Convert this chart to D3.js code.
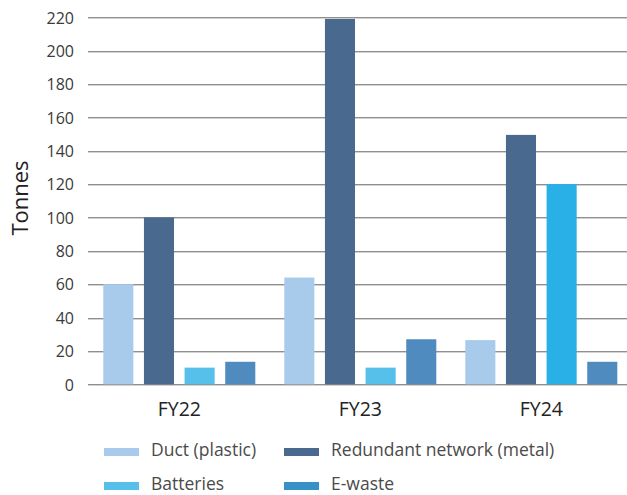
<!DOCTYPE html>
<html><head><meta charset="utf-8">
<script src="https://cdn.jsdelivr.net/npm/d3@7"></script>
<style>body{margin:0;background:#fff}svg{display:block}text{font-family:"Open Sans",Lato,sans-serif;font-weight:400}</style>
</head><body><div id="chart"></div>
<script>
const categories = ["FY22", "FY23", "FY24"];
const seriesNames = ["Duct (plastic)", "Redundant network (metal)", "Batteries", "E-waste"];
const ductPlastic = [60, 64, 26.5];
const redundantNetwork = [100, 219, 149.5];
const batteries = [10, 10, 120];
const eWaste = [13.5, 27, 13.5];
const yTicks = [0, 20, 40, 60, 80, 100, 120, 140, 160, 180, 200, 220];

const seriesValues = [ductPlastic, redundantNetwork, batteries, eWaste];
const barColors = [
  ["#A8CBEC", "#A8CBEC", "#A8CBEC"],
  ["#4A698F", "#4A698F", "#4A698F"],
  ["#56C0EA", "#56C0EA", "#29B0E6"],
  ["#508BC0", "#508BC0", "#508BC0"]
];
const legendColors = ["#A8CBEC", "#4A698F", "#56C0EA", "#3591C6"];

const W = 627, H = 495;
const svg = d3.select("#chart").append("svg").attr("width", W).attr("height", H);

const y = d3.scaleLinear().domain([0, 220]).range([384.3, 17.3]);
const x0 = d3.scaleBand().domain(categories).range([88.8, 631.8]).padding(0);
const x1 = d3.scaleBand().domain(seriesNames)
  .range([(x0.bandwidth() - 152) / 2, (x0.bandwidth() + 152) / 2])
  .paddingInner(0.26).paddingOuter(0);

// grid
const grid = svg.append("g");
yTicks.forEach(t => {
  const yy = Math.round(y(t));
  grid.append("line").attr("x1", 88).attr("x2", W).attr("y1", yy + 0.5).attr("y2", yy + 0.5)
    .attr("stroke", "#8f8f8f").attr("stroke-width", 1);
  grid.append("line").attr("x1", 88).attr("x2", W).attr("y1", yy + 1.5).attr("y2", yy + 1.5)
    .attr("stroke", "#d2d2d2").attr("stroke-width", 1);
});

// y axis labels
const yAxis = d3.axisLeft(y).tickValues(yTicks).tickSize(0).tickPadding(0);
const ya = svg.append("g").attr("transform", "translate(74,0)").call(yAxis);
ya.select(".domain").remove();
ya.selectAll("text").attr("font-size", 16).attr("fill", "#3a3a3a").attr("dy", "0.36em")
  .style("font-family", "'Open Sans',sans-serif");

// bars
const groups = svg.append("g").selectAll("g").data(categories).join("g")
  .attr("transform", d => `translate(${x0(d)},0)`);
groups.selectAll("rect")
  .data((c, ci) => seriesNames.map((s, si) => ({ s, si, ci, v: seriesValues[si][ci] })))
  .join("rect")
  .attr("x", d => x1(d.s))
  .attr("width", x1.bandwidth())
  .attr("y", d => y(d.v))
  .attr("height", d => y(0) - y(d.v))
  .attr("fill", d => barColors[d.si][d.ci]);

// x axis labels
const xAxis = d3.axisBottom(x0).tickSize(0).tickPadding(0);
const xa = svg.append("g").attr("transform", "translate(0,402.5)").call(xAxis);
xa.select(".domain").remove();
xa.selectAll("text").attr("font-size", 19.5).attr("fill", "#222").attr("dy", "0.71em")
  .style("font-family", "'Open Sans',sans-serif");

// y title
svg.append("text").attr("transform", "translate(28,198) rotate(-90)")
  .attr("text-anchor", "middle").attr("font-size", 22).attr("fill", "#222").text("Tonnes");

// legend
const legPos = [[104, 448], [284, 448], [104, 482], [284, 482]];
seriesNames.forEach((name, i) => {
  const [lx, ly] = legPos[i];
  svg.append("rect").attr("x", lx).attr("y", ly).attr("width", 35).attr("height", 8)
    .attr("fill", legendColors[i]);
  svg.append("text").attr("x", lx + 47).attr("y", ly + 8).attr("font-size", 17.5)
    .attr("fill", "#4a4a4a").text(name);
});
</script></body></html>
